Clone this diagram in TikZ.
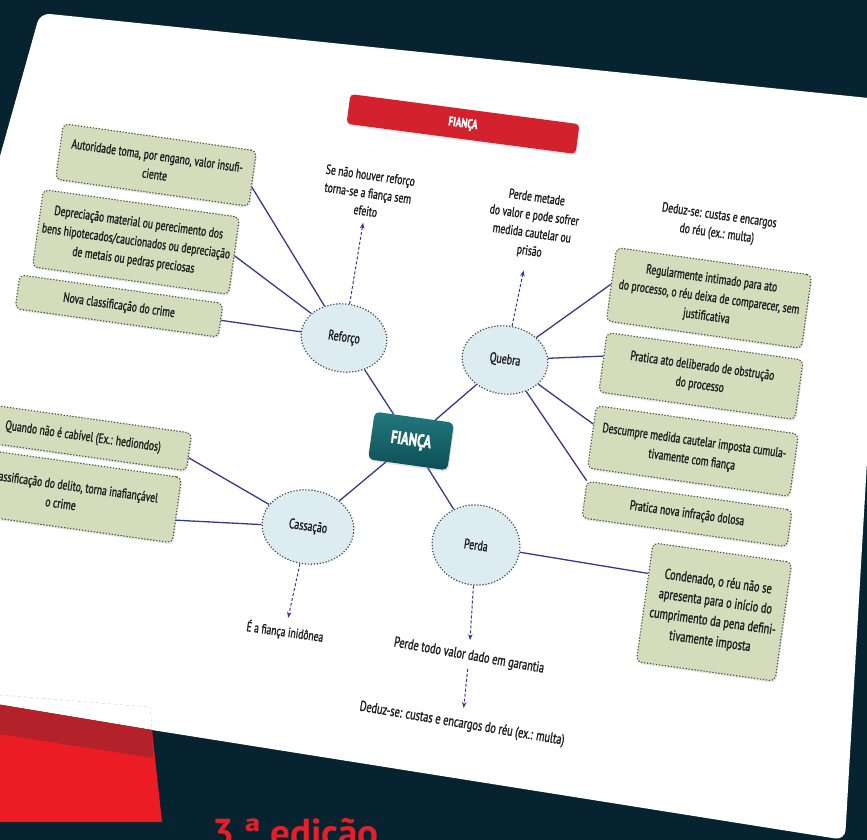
\documentclass[tikz,border=0pt]{standalone}
\usepackage{fontspec}
\setmainfont{PT Sans}[FakeStretch=0.71, FakeBold=1.2]
\newfontfamily\edfont{PT Sans}
\usetikzlibrary{shapes.geometric,arrows.meta,calc,shadows}
\definecolor{bgdark}{HTML}{06232F}
\definecolor{sage}{HTML}{D5DCBC}
\definecolor{ovalfill}{HTML}{DDECF1}
\definecolor{linkblue}{HTML}{353B8C}
\definecolor{arrblue}{HTML}{2E3A94}
\definecolor{txt}{HTML}{1E1E1E}
\definecolor{titlered}{HTML}{D3212D}
\definecolor{redA}{HTML}{B3212A}
\definecolor{redB}{HTML}{EC1C24}
\definecolor{edred}{HTML}{E3202A}
\definecolor{tealA}{HTML}{22797F}
\definecolor{tealB}{HTML}{0D4E55}
\definecolor{dotline}{HTML}{4A4F3E}
\definecolor{ovalline}{HTML}{3C4A50}
\begin{document}
\begin{tikzpicture}[x=1pt,y=-1pt,
  gbox/.style={draw=dotline, fill=sage, rounded corners=5pt, line width=1.1pt,
    dash pattern=on 1.3pt off 1.7pt, align=center, text=txt,
    font=\fontsize{13.5}{19}\selectfont, inner sep=2pt, rotate=-8,
    drop shadow={opacity=0.18, shadow xshift=1pt, shadow yshift=-2pt}},
  ovalnode/.style={ellipse, draw=ovalline, fill=ovalfill, line width=1.2pt,
    dash pattern=on 1.2pt off 1.8pt, text=txt, font=\fontsize{14}{15}\selectfont,
    inner sep=0pt, rotate=-8},
  lbl/.style={align=center, text=txt, font=\fontsize{13.5}{18}\selectfont,
    inner sep=3pt, rotate=-8},
  conn/.style={draw=linkblue, line width=1.3pt},
  darr/.style={draw=arrblue, line width=1pt, dash pattern=on 3pt off 2pt,
    -{Stealth[length=6pt,width=4.5pt]}}
]
\useasboundingbox (0,0) rectangle (867,840);
\clip (0,0) rectangle (867,840);
% background and page
\fill[bgdark] (0,0) rectangle (867,840);
\fill[white, rounded corners=10pt] (-29,260) -- (40,13) -- (888,100) -- (845,840) -- (152,730) -- (-40,698) -- cycle;
\fill[redB] (-40,698) -- (152,730) -- (162,822) -- (-40,822) -- cycle;
\fill[redA] (-40,698) -- (152,730) -- (153,758) -- (-40,728) -- cycle;
\draw[black!15, dashed, line width=0.6pt] (0,695) -- (150,707) -- (152,730);
\node[anchor=base west, inner sep=0pt, text=edred,
  font=\edfont\bfseries\fontsize{39}{40}\selectfont] (ed) at (212,846) {3 ª edição};

% title
\node[fill=titlered, rounded corners=4pt, minimum width=231, minimum height=30,
  rotate=-7.5, text=white, font=\bfseries\fontsize{13}{14}\selectfont,
  drop shadow={opacity=0.15, shadow xshift=1pt, shadow yshift=-2pt}] (title) at (463,124) {FIANÇA};

% central node
\node[rounded corners=5pt, minimum width=80, minimum height=48, rotate=-8,
  top color=tealA, bottom color=tealB, text=white,
  font=\bfseries\fontsize{18}{18}\selectfont,
  drop shadow={opacity=0.2, shadow xshift=1pt, shadow yshift=-2pt}] (fi) at (411,441) {FIANÇA};

% ovals
\node[ovalnode, minimum width=86, minimum height=68] (ref) at (344,338) {Reforço};
\node[ovalnode, minimum width=86, minimum height=68] (que) at (505,360) {Quebra};
\node[ovalnode, minimum width=92, minimum height=74] (cas) at (308,527) {Cassação};
\node[ovalnode, minimum width=88, minimum height=80] (per) at (476,545) {Perda};

% left boxes
\node[gbox, minimum width=195, minimum height=56] (b1) at (156,165)
  {Autoridade toma, por engano, valor insufi-\\ciente};
\node[gbox, minimum width=198, minimum height=78] (b2) at (136,242)
  {Depreciação material ou perecimento dos\\bens hipotecados/caucionados ou depreciação\\de metais ou pedras preciosas};
\node[gbox, minimum width=205, minimum height=34] (b3) at (119,306)
  {Nova classificação do crime};
\node[gbox, minimum width=214, minimum height=38] (l4) at (83,437)
  {Quando não é cabível (Ex.: hediondos)};
\node[gbox, minimum width=232, minimum height=66] (l5) at (62,494)
  {Nova classificação do delito, torna inafiançável\\o crime};

% right boxes
\node[gbox, minimum width=197, minimum height=74] (r1) at (709,298)
  {Regularmente intimado para ato\\do processo, o réu deixa de comparecer, sem\\justificativa};
\node[gbox, minimum width=198, minimum height=60] (r2) at (701,376)
  {Pratica ato deliberado de obstrução\\do processo};
\node[gbox, minimum width=204, minimum height=63] (r3) at (693,451)
  {Descumpre medida cautelar imposta cumula-\\tivamente com fiança};
\node[gbox, minimum width=207, minimum height=37] (r4) at (687,514)
  {Pratica nova infração dolosa};
\node[gbox, minimum width=140, minimum height=120, font=\fontsize{14.5}{20}\selectfont] (r5) at (714,612)
  {Condenado, o réu não se\\apresenta para o início do\\cumprimento da pena defini-\\tivamente imposta};

% free labels
\node[lbl] (t1) at (368,193) {Se não houver reforço\\torna-se a fiança sem\\efeito};
\node[lbl] (t2) at (533,225) {Perde metade\\do valor e pode sofrer\\medida cautelar ou\\prisão};
\node[lbl] (t3) at (718,225) {Deduz-se: custas e encargos\\do réu (ex.: multa)};
\node[lbl] (t4) at (285,632) {É a fiança inidônea};
\node[lbl, rotate=-2, font=\fontsize{14.5}{18}\selectfont] (t5) at (469,656) {Perde todo valor dado em garantia};
\node[lbl, rotate=-1.5, font=\fontsize{14.5}{18}\selectfont] (t6) at (462,724) {Deduz-se: custas e encargos do réu (ex.: multa)};

% solid connectors
\draw[conn] (ref) -- ($(b1.north east)!0.65!(b1.south east)$);
\draw[conn] (ref) -- (b2.east);
\draw[conn] (ref) -- (b3.east);
\draw[conn] (ref) -- (fi);
\draw[conn] (que) -- (fi);
\draw[conn] (que) -- (r1.west);
\draw[conn] (que) -- ($(r2.north west)!0.4!(r2.south west)$);
\draw[conn] (que) -- ($(r3.north west)!0.3!(r3.south west)$);
\draw[conn] (que) -- (r4.north west);
\draw[conn] (cas) -- (fi);
\draw[conn] (per) -- (fi);
\draw[conn] (cas) -- ($(l4.north east)!0.65!(l4.south east)$);
\draw[conn] (cas) -- ($(l5.north east)!0.65!(l5.south east)$);
\draw[conn] (per) -- ($(r5.north west)!0.26!(r5.south west)$);

% dashed arrows
\draw[darr, shorten >=4pt] (ref) -- (t1);
\draw[darr, shorten >=10pt] (que) -- (t2);
\draw[darr, shorten >=4pt] (cas) -- (t4);
\draw[darr, shorten >=6pt] (per) -- (t5);
\draw[darr, shorten >=6pt, shorten <=3pt] (t5) -- (t6);
\end{tikzpicture}
\end{document}
